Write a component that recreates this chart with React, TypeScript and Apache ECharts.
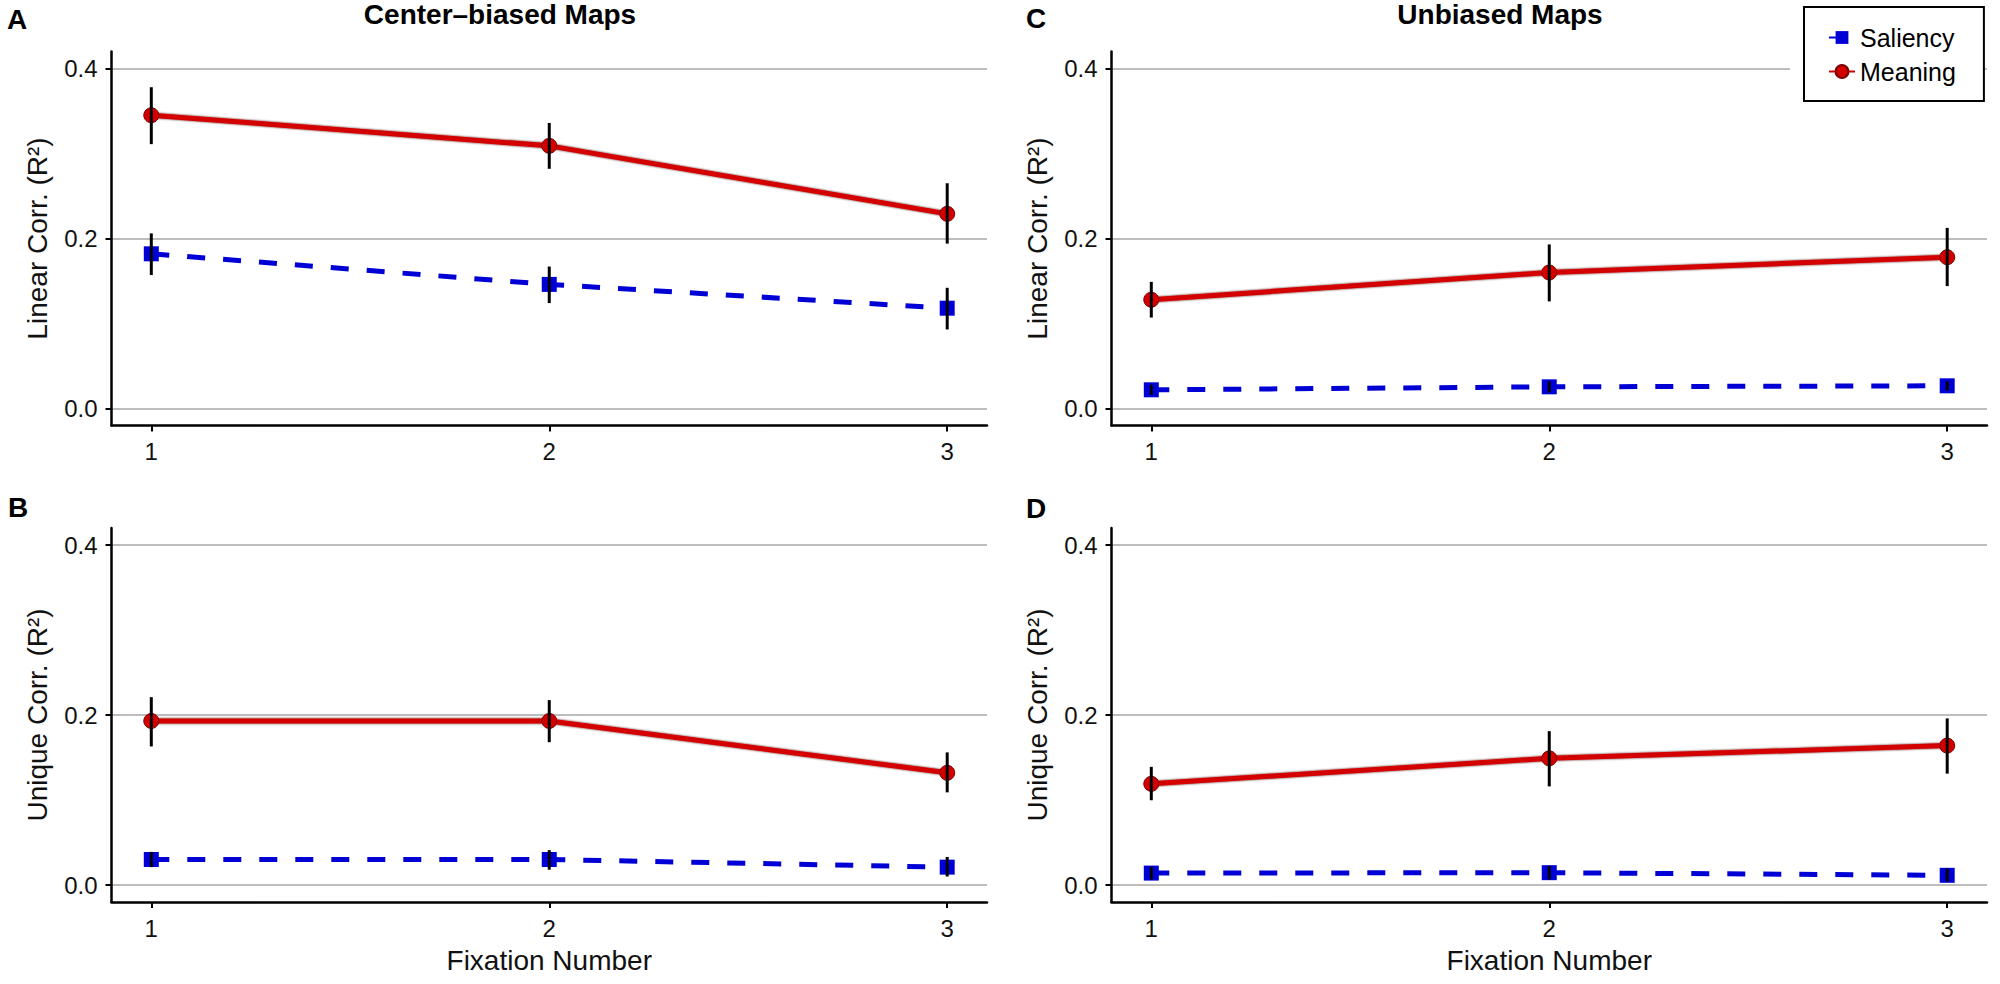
import React, { useEffect, useRef } from "react";
import * as echarts from "echarts";

// ---------- data ----------
const fixations = [1, 2, 3];
const xTicks = [1, 2, 3];
const yTicks = [0, 0.2, 0.4];

// Panel A: Center-biased, linear correlation
const meaningA = [0.345, 0.309, 0.229];
const meaningALo = [0.311, 0.282, 0.194];
const meaningAHi = [0.378, 0.336, 0.265];
const saliencyA = [0.182, 0.146, 0.118];
const saliencyALo = [0.157, 0.124, 0.093];
const saliencyAHi = [0.206, 0.167, 0.142];

// Panel B: Center-biased, unique correlation
const meaningB = [0.193, 0.193, 0.132];
const meaningBLo = [0.163, 0.168, 0.109];
const meaningBHi = [0.221, 0.2175, 0.156];
const saliencyB = [0.03, 0.03, 0.021];
const saliencyBLo = [0.021, 0.018, 0.01];
const saliencyBHi = [0.039, 0.041, 0.033];

// Panel C: Unbiased, linear correlation
const meaningC = [0.128, 0.16, 0.178];
const meaningCLo = [0.107, 0.126, 0.144];
const meaningCHi = [0.149, 0.193, 0.2125];
const saliencyC = [0.022, 0.0255, 0.0267];
const saliencyCLo = [0.016, 0.019, 0.021];
const saliencyCHi = [0.028, 0.032, 0.032];

// Panel D: Unbiased, unique correlation
const meaningD = [0.119, 0.149, 0.164];
const meaningDLo = [0.0997, 0.116, 0.131];
const meaningDHi = [0.139, 0.181, 0.196];
const saliencyD = [0.014, 0.0145, 0.0114];
const saliencyDLo = [0.0065, 0.0065, 0.004];
const saliencyDHi = [0.0215, 0.0225, 0.019];

const FONT = '"Liberation Sans", Arial, Helvetica, sans-serif';
const RED = "#d40000";
const BLUE = "#0000d6";

const panels = [
  {
    grid: { left: 111.5, top: 51.5, width: 875.5, height: 374 },
    yName: "Linear Corr. (R²)",
    xName: "",
    meaning: meaningA, mLo: meaningALo, mHi: meaningAHi,
    saliency: saliencyA, sLo: saliencyALo, sHi: saliencyAHi,
  },
  {
    grid: { left: 111.5, top: 528, width: 875.5, height: 374 },
    yName: "Unique Corr. (R²)",
    xName: "Fixation Number",
    meaning: meaningB, mLo: meaningBLo, mHi: meaningBHi,
    saliency: saliencyB, sLo: saliencyBLo, sHi: saliencyBHi,
  },
  {
    grid: { left: 1111.5, top: 51.5, width: 875.5, height: 374 },
    yName: "Linear Corr. (R²)",
    xName: "",
    meaning: meaningC, mLo: meaningCLo, mHi: meaningCHi,
    saliency: saliencyC, sLo: saliencyCLo, sHi: saliencyCHi,
  },
  {
    grid: { left: 1111.5, top: 528, width: 875.5, height: 374 },
    yName: "Unique Corr. (R²)",
    xName: "Fixation Number",
    meaning: meaningD, mLo: meaningDLo, mHi: meaningDHi,
    saliency: saliencyD, sLo: saliencyDLo, sHi: saliencyDHi,
  },
];

function buildOption() {
  const grid: any[] = [];
  const xAxis: any[] = [];
  const yAxis: any[] = [];
  const series: any[] = [];

  panels.forEach((p, i) => {
    grid.push({ ...p.grid, containLabel: false });
    xAxis.push({
      type: "value",
      gridIndex: i,
      min: 0.9,
      max: 3.1,
      name: p.xName,
      nameLocation: "middle",
      nameGap: 44,
      nameTextStyle: { fontSize: 28, color: "#111", fontFamily: FONT },
      axisLine: { show: true, onZero: false, lineStyle: { color: "#000", width: 2.5 } },
      axisTick: { show: true, length: 6, customValues: xTicks, lineStyle: { color: "#000", width: 2 } },
      axisLabel: { show: true, customValues: xTicks, margin: 14, fontSize: 24, color: "#111", fontFamily: FONT },
      splitLine: { show: false },
    });
    yAxis.push({
      type: "value",
      gridIndex: i,
      min: -0.02,
      max: 0.42,
      name: p.yName,
      nameLocation: "middle",
      nameGap: 60,
      nameTextStyle: { fontSize: 28, color: "#111", fontFamily: FONT },
      axisLine: { show: true, onZero: false, lineStyle: { color: "#000", width: 2.5 } },
      axisTick: { show: true, length: 6, customValues: yTicks, lineStyle: { color: "#000", width: 2 } },
      axisLabel: {
        show: true,
        customValues: yTicks,
        margin: 14,
        fontSize: 24,
        color: "#111",
        fontFamily: FONT,
        formatter: (v: number) => v.toFixed(1),
      },
      splitLine: { show: true, lineStyle: { color: "#bdbdbd", width: 2 } },
    });

    series.push({
      name: "Saliency",
      type: "line",
      xAxisIndex: i,
      yAxisIndex: i,
      data: fixations.map((x, k) => [x, p.saliency[k]]),
      symbol: "rect",
      symbolSize: 15,
      itemStyle: { color: BLUE },
      lineStyle: { color: BLUE, width: 5, type: [18, 18] },
      z: 3,
    });
    series.push({
      name: "Meaning",
      type: "line",
      xAxisIndex: i,
      yAxisIndex: i,
      data: fixations.map((x, k) => [x, p.meaning[k]]),
      symbol: "circle",
      symbolSize: 15,
      itemStyle: { color: RED, borderColor: "#7a0000", borderWidth: 1 },
      lineStyle: { color: RED, width: 5, shadowColor: "rgba(60,0,0,0.9)", shadowBlur: 2 },
      z: 4,
    });
    const errData = [
      ...fixations.map((x, k) => [x, p.sLo[k], p.sHi[k]]),
      ...fixations.map((x, k) => [x, p.mLo[k], p.mHi[k]]),
    ];
    series.push({
      name: "errorbars",
      type: "custom",
      xAxisIndex: i,
      yAxisIndex: i,
      data: errData,
      encode: { x: 0, y: [1, 2] },
      z: 6,
      silent: true,
      renderItem: (params: any, api: any) => {
        const x = api.value(0);
        const a = api.coord([x, api.value(1)]);
        const b = api.coord([x, api.value(2)]);
        return {
          type: "line",
          shape: { x1: a[0], y1: a[1], x2: b[0], y2: b[1] },
          style: { stroke: "#000", lineWidth: 3 },
        };
      },
    });
  });

  const letter = (t: string, x: number, y: number) => ({
    type: "text",
    x,
    y,
    style: {
      text: t,
      fontSize: 28,
      fontWeight: "bold",
      fontFamily: FONT,
      fill: "#000",
      align: "left",
      verticalAlign: "middle",
    },
  });
  const title = (t: string, x: number, y: number) => ({
    type: "text",
    x,
    y,
    style: {
      text: t,
      fontSize: 28,
      fontWeight: "bold",
      fontFamily: FONT,
      fill: "#000",
      align: "center",
      verticalAlign: "middle",
    },
  });

  return {
    animation: false,
    backgroundColor: "#fff",
    grid,
    xAxis,
    yAxis,
    series,
    legend: {
      data: ["Saliency", "Meaning"],
      orient: "vertical",
      left: 1804,
      top: 7,
      padding: [18, 28, 17, 24],
      itemWidth: 26,
      itemHeight: 16,
      itemGap: 9,
      borderColor: "#000",
      borderWidth: 2,
      backgroundColor: "#fff",
      textStyle: { fontSize: 25, color: "#000", fontFamily: FONT },
    },
    graphic: [
      {
        type: "rect",
        shape: { x: 1790, y: 58, width: 13, height: 22 },
        style: { fill: "#fff" },
        z: 10,
        silent: true,
      },
      title("Center–biased Maps", 500, 14),
      title("Unbiased Maps", 1500, 14),
      letter("A", 7, 19.5),
      letter("B", 8, 507.5),
      letter("C", 1026, 18.5),
      letter("D", 1026, 508),
    ],
  };
}

export default function App() {
  const ref = useRef<HTMLDivElement>(null);
  useEffect(() => {
    if (!ref.current) return;
    const chart = echarts.init(ref.current, null, { renderer: "svg" });
    chart.setOption(buildOption() as any);
    return () => chart.dispose();
  }, []);
  return (
    <div
      ref={ref}
      style={{ position: "absolute", left: 0, top: 0, width: 2000, height: 984, background: "#fff" }}
    />
  );
}
